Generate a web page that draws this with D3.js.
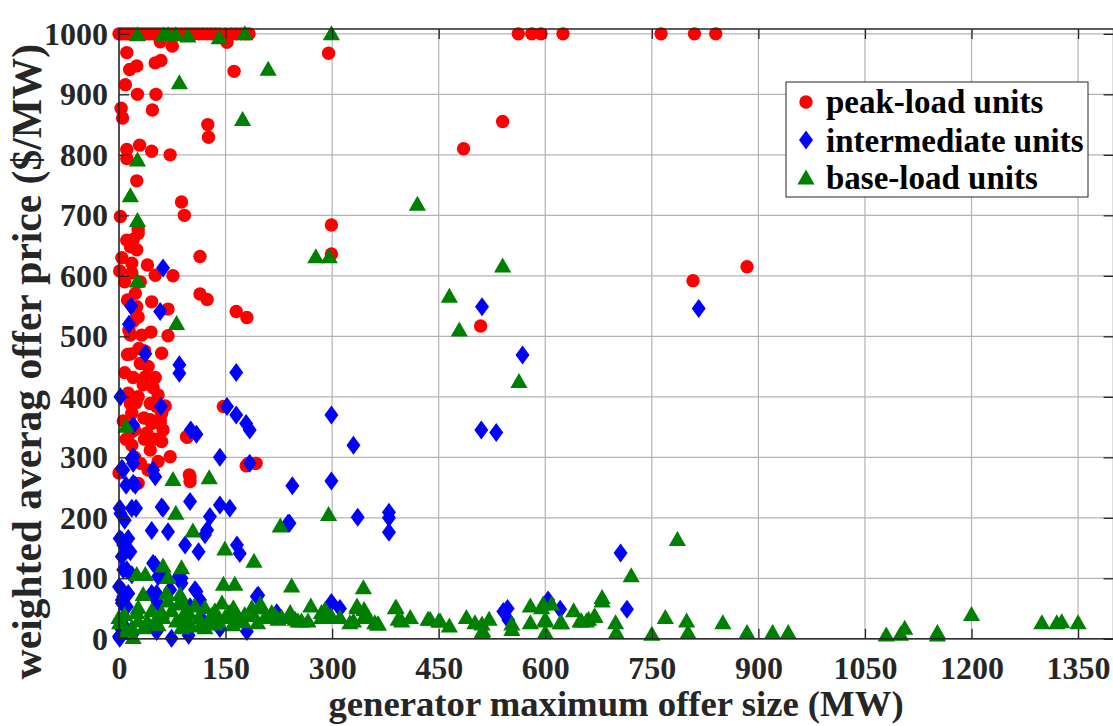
<!DOCTYPE html>
<html>
<head>
<meta charset="utf-8">
<script src="https://cdn.jsdelivr.net/npm/d3@7"></script>
<style>
  html, body { margin: 0; padding: 0; background: #fff; }
  svg { display: block; }
  text { font-family: "Liberation Serif", "Times New Roman", serif; font-weight: bold; }
</style>
</head>
<body>
<svg id="chart" width="1113" height="726"></svg>
<script>
// [offer size (MW), weighted average offer price ($/MW)]
const peakLoad = [
  [0,1000],[3,1000],[7,1000],[11,1000],[15,1000],[19,1000],[23,1000],[28,1000],[33,1000],[38,1000],
  [43,1000],[48,1000],[53,1000],[58,1000],[64,1000],[70,1000],[76,1000],[82,1000],[88,1000],[94,1000],
  [100,1000],[106,1000],[112,1000],[118,1000],[124,1000],[130,1000],[136,1000],[142,1000],[150,1000],
  [158,1000],[165,1000],[172,1000],[178,1000],[183,1000],
  [58,987],[75,980],[152,986],[562,1000],[581,1000],[594,1000],[625,1000],[763,1000],[810,1000],[840,1000],
  [11,969],[15,941],[25,947],[51,952],[59,956],[162,938],[9,916],[26,900],[52,900],[3,877],[5,861],
  [47,874],[125,850],[126,829],[11,809],[11,794],[29,816],[46,806],[72,800],[25,757],[88,722],[92,700],
  [2,698],[27,677],[295,968],[299,684],[299,636],[540,855],[485,810],[808,592],[509,517],[884,615],
  [27,670],[11,659],[16,648],[25,643],[114,632],[18,621],[1,608],[51,601],[76,600],[8,590],[23,571],
  [114,570],[124,561],[46,557],[69,545],[165,541],[180,531],[25,549],[27,532],[16,502],[32,502],
  [45,507],[69,501],[17,471],[36,476],[60,472],[41,450],[20,432],[37,433],[51,432],[13,406],[27,400],
  [55,403],[16,389],[18,373],[44,389],[53,384],[60,373],[58,362],[44,362],[147,384],[96,333],[179,286],
  [193,290],[99,271],[46,356],[58,356],[16,340],[39,340],[60,326],[18,320],[44,312],[72,301],[95,334],
  [55,293],[41,279],[0,274],[27,257],[100,268],[100,260],[182,290],[191,290],
  [6,360],[22,345],[30,455],[34,420],[48,415],[24,390],[35,365],[10,330],[30,290],[50,330],[62,345],
  [12,470],[14,510],[28,480],[20,525],[12,560],[30,590],[18,605],[40,618],[8,440],[22,300],[36,330],
  [65,385],[4,630],[20,660]
];

const intermediate = [
  [62,613],[17,550],[14,520],[58,541],[37,471],[85,453],[85,439],[165,440],[2,400],[59,384],[152,384],
  [165,370],[179,356],[184,345],[101,345],[109,338],[20,353],[299,370],[330,320],[142,300],[20,301],
  [20,290],[184,290],[4,282],[6,279],[20,257],[51,268],[10,254],[244,253],[299,261],[336,201],[240,191],
  [2,207],[8,196],[24,216],[62,216],[100,227],[142,221],[156,216],[128,202],[124,180],[46,179],[69,177],
  [93,155],[112,144],[166,155],[170,141],[4,163],[11,147],[4,136],[11,114],[18,106],[51,122],[62,108],
  [88,100],[72,81],[109,78],[4,81],[6,70],[4,59],[11,53],[53,75],[55,59],[194,70],[222,43],[299,60],
  [311,50],[1,28],[11,15],[20,9],[1,1],[51,15],[74,1],[98,6],[180,12],[142,17],[100,53],[114,64],
  [119,28],[511,549],[816,546],[568,469],[510,345],[531,341],[380,209],[380,200],[380,176],[706,142],
  [715,49],[547,50],[548,31],[541,45],[604,64],[621,49],[18,298],[48,279],[23,254],[1,216],[18,216],
  [60,218],[1,166],[13,166],[6,155],[16,144],[6,114],[48,125],[55,103],[84,103],[0,86],[4,64],[13,75],
  [46,75],[107,81],[196,72],[88,92],[0,4],[1,20],[53,12],[238,191],[121,172]
];

const baseLoad = [
  [26,1000],[62,1000],[69,1000],[80,1000],[97,998],[141,995],[177,1002],[299,1002],[85,921],[210,943],
  [174,860],[26,793],[16,734],[26,693],[26,593],[81,523],[277,633],[296,633],[10,353],[420,720],
  [540,618],[465,568],[479,512],[563,427],[76,265],[127,268],[80,209],[104,180],[149,150],[190,130],
  [227,188],[295,207],[25,108],[37,108],[62,122],[88,119],[69,103],[147,92],[163,92],[243,89],[344,86],
  [34,75],[67,77],[88,64],[786,166],[721,106],[680,70],[680,64],
  [0,37],[1,28],[18,20],[20,4],[25,45],[27,31],[46,48],[51,31],[62,37],[69,64],[74,48],[84,59],[91,42],
  [81,31],[98,45],[107,56],[112,37],[121,53],[126,31],[135,48],[145,61],[149,37],[161,53],[168,37],
  [177,42],[187,53],[199,59],[206,39],[215,45],[229,37],[241,45],[252,31],[88,20],[121,20],[135,26],
  [102,23],[27,53],[8,42],[86,75],[40,30],[55,25],[60,45],[95,30],[115,25],[130,40],[140,30],[155,45],
  [160,25],[175,30],[190,40],[195,28],[220,40],[10,15],[35,20],
  [248,34],[266,31],[285,37],[299,39],[325,28],[344,37],[364,26],[393,34],[435,34],[450,31],[465,23],
  [489,37],[501,28],[511,26],[521,34],[511,12],[553,26],[553,17],[579,56],[595,53],[609,59],[579,28],
  [600,34],[600,12],[621,28],[640,48],[651,31],[661,34],[669,39],[699,28],[700,12],[750,9],[769,37],
  [799,31],[801,12],[850,28],[884,12],[920,12],[942,12],[1080,8],[1100,9],[1106,19],[1152,12],[1152,8],
  [1200,42],[1299,28],[1320,28],[1327,30],[1350,28],
  [270,56],[290,50],[335,56],[390,54],[410,37],[345,50],[351,37],[365,26],[389,53],[398,31],[438,34],
  [452,31],[512,15],[597,59],[600,31],[623,28],[649,31],[658,31],[670,39],[285,45],[297,37],[311,37],
  [330,31],[349,37],[360,28],[243,37],[224,34],[257,31],[335,53],[199,53],[208,37]
];

const xTicks = [0,150,300,450,600,750,900,1050,1200,1350];
const yTicks = [0,100,200,300,400,500,600,700,800,900,1000];
const seriesNames = ["peak-load units", "intermediate units", "base-load units"];
const xLabel = "generator maximum offer size (MW)";
const yLabel = "weighted averag offer price ($/MW)";

const svg = d3.select("#chart");
const plotLeft = 119, plotRight = 1113.6, plotTop = 29, plotBottom = 638.8;

const x = d3.scaleLinear().domain([0, 1400]).range([plotLeft, plotRight]);
const y = d3.scaleLinear().domain([0, 1008]).range([plotBottom, plotTop]);

const axisColor = "#262626";
const gridColor = "#b4b4b4";
const fmt = d3.format("d");

// grid
const grid = svg.append("g");
grid.selectAll(".gx").data(xTicks).join("line")
  .attr("x1", d => x(d)).attr("x2", d => x(d))
  .attr("y1", plotTop).attr("y2", plotBottom)
  .attr("stroke", gridColor).attr("stroke-width", 1.2);
grid.selectAll(".gy").data(yTicks).join("line")
  .attr("y1", d => y(d)).attr("y2", d => y(d))
  .attr("x1", plotLeft).attr("x2", plotRight)
  .attr("stroke", gridColor).attr("stroke-width", 1.2);

// markers
const diamond = "M0,-9.5L7,0L0,9.5L-7,0Z";
const triangle = "M0,-7.5L8.6,7.5L-8.6,7.5Z";

svg.append("g").selectAll("circle").data(peakLoad).join("circle")
  .attr("cx", d => x(d[0])).attr("cy", d => y(d[1])).attr("r", 6.7)
  .attr("fill", "#ff0000");
svg.append("g").selectAll("path").data(intermediate).join("path")
  .attr("d", diamond)
  .attr("transform", d => `translate(${x(d[0])},${y(d[1])})`)
  .attr("fill", "#0000ff");
svg.append("g").selectAll("path").data(baseLoad).join("path")
  .attr("d", triangle)
  .attr("transform", d => `translate(${x(d[0])},${y(d[1])})`)
  .attr("fill", "#008000");

// axes (ticks inward on all four sides)
const tickLen = 10;
const xAxisB = d3.axisBottom(x).tickValues(xTicks).tickFormat(fmt).tickSizeInner(-tickLen).tickSizeOuter(0).tickPadding(17);
const yAxisL = d3.axisLeft(y).tickValues(yTicks).tickFormat(fmt).tickSizeInner(-tickLen).tickSizeOuter(0).tickPadding(11);
const xAxisT = d3.axisTop(x).tickValues(xTicks).tickSizeInner(-tickLen).tickSizeOuter(0).tickFormat("");
const yAxisR = d3.axisRight(y).tickValues(yTicks).tickSizeInner(-tickLen).tickSizeOuter(0).tickFormat("");

function styleAxis(g) {
  g.select(".domain").remove();
  g.selectAll(".tick line").attr("stroke", axisColor).attr("stroke-width", 1.3);
  g.selectAll(".tick text").attr("fill", axisColor).attr("font-size", 32)
    .attr("font-family", "'Liberation Serif','Times New Roman',serif").attr("font-weight", "bold");
}
svg.append("g").attr("transform", `translate(0,${plotBottom})`).call(xAxisB).call(styleAxis);
svg.append("g").attr("transform", `translate(${plotLeft},0)`).call(yAxisL).call(styleAxis);
svg.append("g").attr("transform", `translate(0,${plotTop})`).call(xAxisT).call(styleAxis);
svg.append("g").attr("transform", `translate(${plotRight},0)`).call(yAxisR).call(styleAxis);

// box
svg.append("rect")
  .attr("x", plotLeft).attr("y", plotTop).attr("width", plotRight - plotLeft).attr("height", plotBottom - plotTop)
  .attr("fill", "none").attr("stroke", axisColor).attr("stroke-width", 1.5);

// axis titles
svg.append("text")
  .attr("x", 616).attr("y", 716)
  .attr("text-anchor", "middle").attr("font-size", 36.7).attr("fill", axisColor)
  .text(xLabel);
svg.append("text")
  .attr("transform", `translate(41,361.5) rotate(-90)`)
  .attr("text-anchor", "middle").attr("font-size", 41.5).attr("fill", axisColor)
  .text(yLabel);

// legend
const legend = svg.append("g");
legend.append("rect")
  .attr("x", 786).attr("y", 82).attr("width", 302).attr("height", 115)
  .attr("fill", "#fff").attr("stroke", "#262626").attr("stroke-width", 1);
const markerRows = [102, 140, 177];
const textRows = [113, 151.5, 189];
const legendColors = ["#ff0000", "#0000ff", "#008000"];
seriesNames.forEach((name, i) => {
  if (i === 0) {
    legend.append("circle").attr("cx", 806).attr("cy", markerRows[i]).attr("r", 6.7).attr("fill", legendColors[i]);
  } else {
    legend.append("path").attr("d", i === 1 ? diamond : triangle)
      .attr("transform", `translate(806,${markerRows[i]})`).attr("fill", legendColors[i]);
  }
  legend.append("text")
    .attr("x", 826).attr("y", textRows[i])
    .attr("font-size", 33).attr("fill", "#000")
    .text(name);
});
</script>
</body>
</html>
